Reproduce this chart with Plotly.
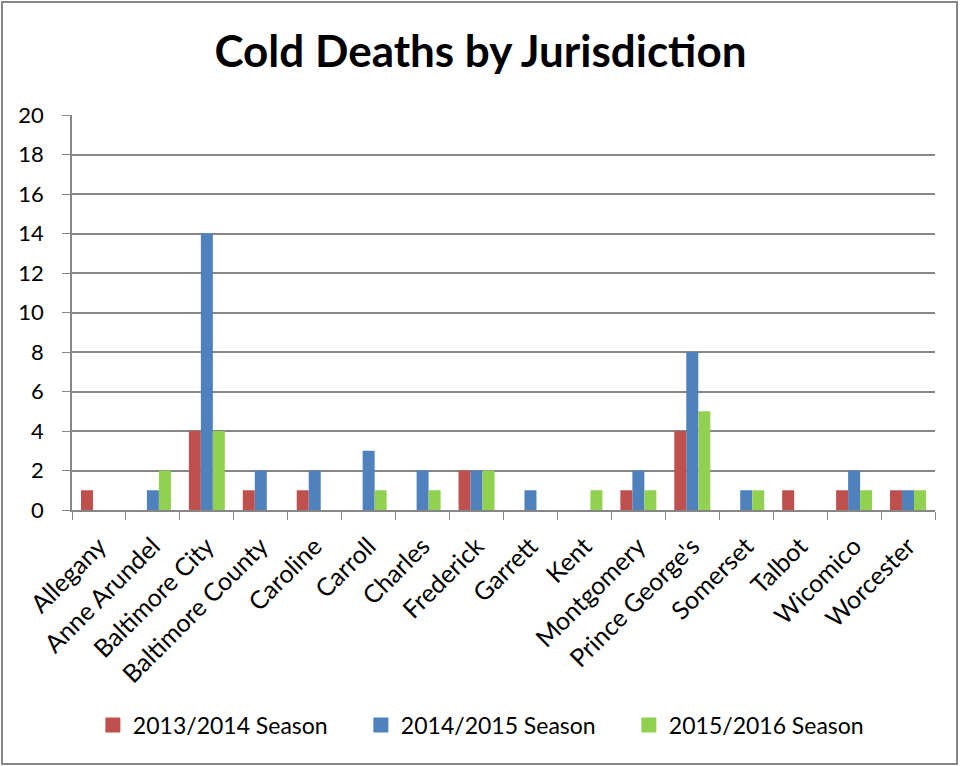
import plotly.graph_objects as go

categories = ["Allegany", "Anne Arundel", "Baltimore City", "Baltimore County", "Caroline",
              "Carroll", "Charles", "Frederick", "Garrett", "Kent", "Montgomery",
              "Prince George's", "Somerset", "Talbot", "Wicomico", "Worcester"]
season_2013_2014 = [1, 0, 4, 1, 1, 0, 0, 2, 0, 0, 1, 4, 0, 1, 1, 1]
season_2014_2015 = [0, 1, 14, 2, 2, 3, 2, 2, 1, 0, 2, 8, 1, 0, 2, 1]
season_2015_2016 = [0, 2, 4, 0, 0, 1, 1, 2, 0, 1, 1, 5, 1, 0, 1, 1]
series_names = ["2013/2014 Season", "2014/2015 Season", "2015/2016 Season"]
y_ticks = [0, 2, 4, 6, 8, 10, 12, 14, 16, 18, 20]

colors = ["#C0504D", "#4F81BD", "#92D050"]
FONT = "Lato, Carlito, Calibri, sans-serif"
GRID = "#868686"

fig = go.Figure()
for name, vals, col in zip(series_names, [season_2013_2014, season_2014_2015, season_2015_2016], colors):
    fig.add_trace(go.Bar(x=categories, y=vals, name=name, marker_color=col,
                         marker_line_width=0, legendgroup=name, showlegend=False))
# legend-only entries with larger square swatches
for name, col in zip(series_names, colors):
    fig.add_trace(go.Scatter(x=[None], y=[None], mode="markers", name=name, legendgroup=name,
                             marker=dict(symbol="square", size=15, color=col), showlegend=True))

W, H = 961, 766
ml, mr, mt, mb = 72, 26, 115, 256
pw, ph = W - ml - mr, H - mt - mb

fig.update_layout(
    width=W, height=H,
    margin=dict(l=ml, r=mr, t=mt, b=mb),
    paper_bgcolor="white", plot_bgcolor="white",
    font=dict(family=FONT, color="black", size=22),
    title=dict(text="<b>Cold Deaths by Jurisdiction</b>", x=0.5, xanchor="center",
               y=1 - 52 / H, yanchor="middle", font=dict(size=44, family=FONT, color="black")),
    barmode="group", bargap=0.333, bargroupgap=0,
    showlegend=True,
    legend=dict(orientation="h", x=0.49, xanchor="center", y=-(725 - 510) / ph, yanchor="middle",
                font=dict(size=23, family=FONT), traceorder="normal", entrywidth=223,
                itemwidth=30),
    xaxis=dict(showline=True, linecolor=GRID, linewidth=1.5, ticks="outside",
               tickson="boundaries", ticklen=8, tickcolor=GRID, tickangle=-45,
               tickfont=dict(size=25, family=FONT), showgrid=False, ticklabelstandoff=10),
    yaxis=dict(range=[0, 20], tickvals=y_ticks, showline=True, linecolor=GRID,
               linewidth=1.5, ticks="outside", ticklen=8, tickcolor=GRID,
               showgrid=True, gridcolor=GRID, gridwidth=1.5, zeroline=False,
               tickfont=dict(size=22, family=FONT), ticklabelstandoff=14),
)

fig.add_shape(type="rect", xref="paper", yref="paper",
              x0=-(ml - 2) / pw, x1=1 + (mr - 4) / pw,
              y0=-(mb - 2) / ph, y1=1 + (mt - 2) / ph,
              line=dict(color=GRID, width=2), fillcolor="rgba(0,0,0,0)", layer="below")

fig.write_html("out.html", config={"displayModeBar": False},
               post_script="document.body.style.margin='0';document.body.style.overflow='hidden';")
